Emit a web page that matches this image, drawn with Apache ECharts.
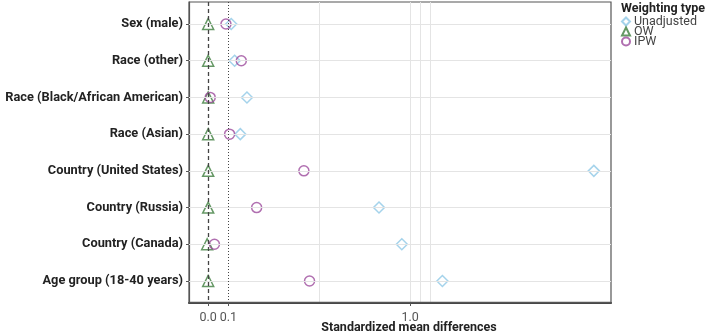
<!DOCTYPE html>
<html>
<head>
<meta charset="utf-8">
<script src="https://cdn.jsdelivr.net/npm/echarts@6/dist/echarts.min.js"></script>
<style>
  html, body { margin: 0; padding: 0; background: #fff; }
  #main { width: 709px; height: 335px; }
</style>
</head>
<body>
<div id="main"></div>
<script>
// categories top -> bottom
var categories = ['Sex (male)', 'Race (other)', 'Race (Black/African American)', 'Race (Asian)',
  'Country (United States)', 'Country (Russia)', 'Country (Canada)', 'Age group (18-40 years)'];
var unadjusted = [0.114, 0.131, 0.192, 0.159, 1.91, 0.846, 0.959, 1.16];
var ow = [0, 0, 0, 0, 0, 0, -0.005, 0];
var ipw = [0.088, 0.164, 0.01, 0.106, 0.474, 0.24, 0.031, 0.502];
var xTicks = [0, 0.1, 1.0];
var xGrid = [0.55, 1.0, 1.05, 1.1];

var chart = echarts.init(document.getElementById('main'));

function pts(arr) {
  return arr.map(function (v, i) { return [v, i]; });
}

var font = 'Roboto, "Liberation Sans", sans-serif';
var catIdx = categories.map(function (c, i) { return i; });
var yMin = -0.6, yMax = categories.length - 1 + 0.6;

var option = {
  animation: false,
  textStyle: { fontFamily: font },
  title: {
    text: 'Weighting type',
    left: 616, top: -3,
    textStyle: { fontSize: 12.5, fontWeight: 'bold', color: '#222', fontFamily: font }
  },
  legend: {
    orient: 'vertical',
    left: 621, top: 15,
    padding: 0,
    itemWidth: 8, itemHeight: 8, itemGap: -3,
    textStyle: { fontSize: 12.5, color: '#444', padding: [0, 0, 0, -1] },
    data: [
      { name: 'Unadjusted', icon: 'diamond' },
      { name: 'OW', icon: 'triangle' },
      { name: 'IPW', icon: 'circle' }
    ]
  },
  grid: {
    left: 189, right: 98, top: 2, bottom: 32,
    outerBoundsMode: 'none',
    show: true, borderColor: '#555', borderWidth: 1.2
  },
  xAxis: {
    type: 'value', min: -0.095, max: 1.995,
    position: 'bottom',
    name: 'Standardized mean differences',
    nameLocation: 'middle', nameGap: 18, nameMoveOverlap: false,
    nameTextStyle: { fontSize: 12.5, fontWeight: 'bold', color: '#222', padding: [0, 0, 0, 18] },
    axisLine: { show: true, onZero: false, lineStyle: { color: '#444', width: 2 } },
    splitLine: { show: false },
    axisTick: { show: true, customValues: xTicks, length: 3, lineStyle: { color: '#555' } },
    axisLabel: {
      customValues: xTicks, fontSize: 12.5, color: '#555', margin: 8,
      formatter: function (v) { return v.toFixed(1); }
    }
  },
  yAxis: {
    type: 'value', inverse: true, min: yMin, max: yMax,
    axisLine: { show: true, onZero: false, lineStyle: { color: '#555', width: 1.2 } },
    splitLine: { show: false },
    axisTick: { show: true, customValues: catIdx, length: 3, lineStyle: { color: '#555' } },
    axisLabel: {
      customValues: catIdx,
      fontSize: 12.8, fontWeight: 'bold', color: '#222', margin: 6,
      formatter: function (v) { return categories[Math.round(v)]; }
    }
  },
  series: [
    {
      name: 'grid', type: 'line', data: [], z: 1, silent: true,
      markLine: {
        silent: true, symbol: 'none', animation: false,
        label: { show: false },
        data: categories.map(function (c, i) {
          return { yAxis: i, lineStyle: { color: '#e4e4e4', width: 1, type: 'solid' } };
        }).concat(xGrid.map(function (v) {
          return { xAxis: v, lineStyle: { color: '#e4e4e4', width: 1, type: 'solid' } };
        })).concat([
          { xAxis: 0, lineStyle: { color: '#444', width: 1.3, type: [4, 3] } },
          { xAxis: 0.1, lineStyle: { color: '#444', width: 1, type: [1, 2] } },
          // bottom panel edge
          { yAxis: yMax - 0.02, lineStyle: { color: '#555', width: 1.4, type: 'solid' } }
        ])
      }
    },
    {
      name: 'Unadjusted', type: 'scatter', symbol: 'diamond', symbolSize: 11, z: 3,
      itemStyle: { color: 'rgba(255,255,255,0)', borderColor: '#8fc8e6', borderWidth: 1.5 },
      data: pts(unadjusted)
    },
    {
      name: 'OW', type: 'scatter', symbol: 'triangle', symbolSize: 11, z: 3,
      itemStyle: { color: 'rgba(255,255,255,0)', borderColor: '#3e7e3e', borderWidth: 1.5 },
      data: pts(ow)
    },
    {
      name: 'IPW', type: 'scatter', symbol: 'circle', symbolSize: 10, z: 3,
      itemStyle: { color: 'rgba(255,255,255,0)', borderColor: '#9c4b9c', borderWidth: 1.5 },
      data: pts(ipw)
    }
  ]
};

chart.setOption(option);
</script>
</body>
</html>
